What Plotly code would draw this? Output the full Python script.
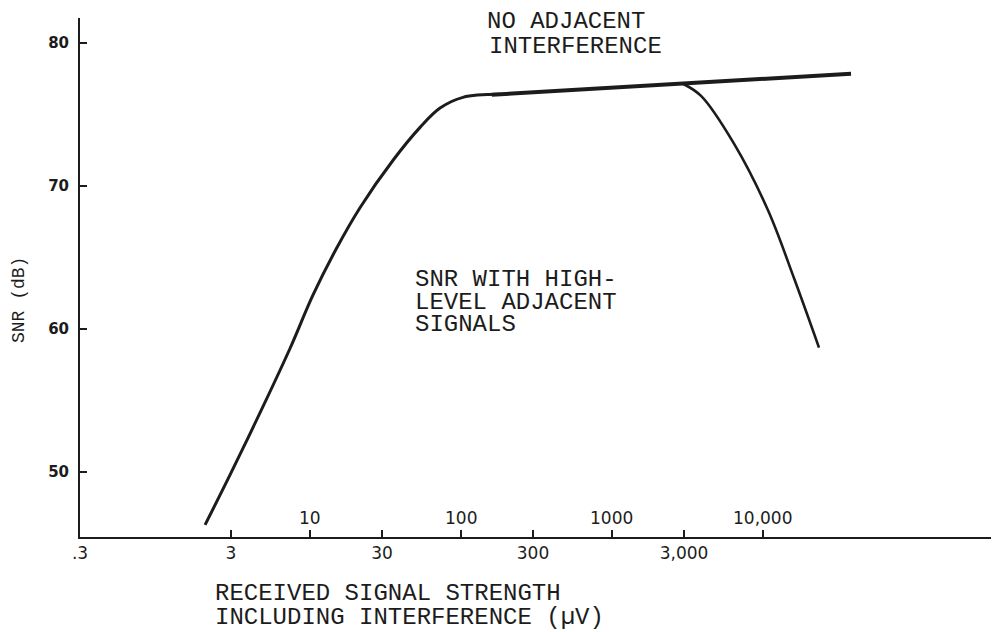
import numpy as np
import plotly.graph_objects as go

# Rising part of the SNR curve (no adjacent interference)
rise_x = [2.02, 3, 4.9, 7.4, 10.5, 15.1, 21.5, 35.5, 53.6, 72.7, 103, 181]
rise_y = [46.3, 49.93, 54.6, 58.67, 62.4, 65.7, 68.5, 71.8, 74.1, 75.45, 76.2, 76.41]

# Plateau (no adjacent interference)
plateau_x = [160, 1000, 38300]
plateau_y = [76.38, 76.87, 77.85]

# SNR with high-level adjacent signals (falling branch)
drop_x = [2950, 3890, 6430, 10800, 16000, 23500]
drop_y = [77.15, 76.3, 72.96, 68.3, 63.6, 58.7]

# Axis ticks
x_tick_vals = [0.3, 3, 10, 30, 100, 300, 1000, 3000, 10000]
x_low_labels = {0.3: ".3", 3: "3", 30: "30", 300: "300", 3000: "3,000"}
x_high_labels = {10: "10", 100: "100", 1000: "1000", 10000: "10,000"}
y_tick_vals = [50, 60, 70, 80]

INK = "#1c1c1c"
MONO = "Liberation Mono"

# page has an 8px body margin; plot area wanted at screen x 80..995, y 18..537
OFF = 8
PL, PR, PT, PB = 80, 995, 18, 537

fig = go.Figure()
fig.add_trace(go.Scatter(x=rise_x, y=rise_y, mode="lines",
                         line=dict(color=INK, width=3, shape="spline", smoothing=1.0),
                         hoverinfo="skip"))
fig.add_trace(go.Scatter(x=plateau_x, y=plateau_y, mode="lines",
                         line=dict(color=INK, width=4),
                         hoverinfo="skip"))
fig.add_trace(go.Scatter(x=drop_x, y=drop_y, mode="lines",
                         line=dict(color=INK, width=2.6, shape="spline", smoothing=1.0),
                         hoverinfo="skip"))

x0 = np.log10(0.3)
x1 = x0 + (PR - PL) / 151

fig.update_layout(
    width=999, height=632, autosize=False,
    margin=dict(l=PL - OFF, r=999 - (PR - OFF), t=PT - OFF, b=632 - (PB - OFF)),
    paper_bgcolor="white", plot_bgcolor="white",
    showlegend=False,
    xaxis=dict(type="log", range=[x0, x1],
               tickvals=x_tick_vals,
               ticktext=[x_low_labels.get(v, "") for v in x_tick_vals],
               ticks="inside", ticklen=7, tickwidth=1.5, tickcolor=INK,
               showline=True, linecolor=INK, linewidth=2,
               showgrid=False, zeroline=False,
               tickfont=dict(family="DejaVu Sans", size=17, color=INK)),
    yaxis=dict(range=[45.45, 81.75],
               tickvals=y_tick_vals,
               ticks="inside", ticklen=7, tickwidth=2, tickcolor=INK,
               showline=True, linecolor=INK, linewidth=2,
               showgrid=False, zeroline=False,
               ticklabelstandoff=6,
               tickfont=dict(family="DejaVu Sans", size=15, color=INK, weight="bold")),
)


def px_to_paper(sx, sy):
    return (sx - PL) / (PR - PL), (PB - sy) / (PB - PT)


# Upper-row x labels (written above the axis line)
for v, t in x_high_labels.items():
    fig.add_annotation(x=np.log10(v), y=0, xref="x", yref="paper",
                       text=t, showarrow=False, yanchor="bottom", yshift=7,
                       font=dict(family="DejaVu Sans", size=17, color=INK))

# Typed annotations
texts = [
    ("NO ADJACENT", 485, 22),
    ("INTERFERENCE", 487, 47),
    ("SNR WITH HIGH-", 413, 279),
    ("LEVEL ADJACENT", 413, 302),
    ("SIGNALS", 413, 324),
    ("RECEIVED SIGNAL STRENGTH", 213, 594),
    ("INCLUDING INTERFERENCE (\u00b5V)", 213, 617),
]
for t, sx, sy in texts:
    ax, ay = px_to_paper(sx, sy)
    fig.add_annotation(x=ax, y=ay, xref="paper", yref="paper",
                       text=t, showarrow=False, xanchor="left", yanchor="middle",
                       font=dict(family=MONO, size=24, color=INK))

ax, ay = px_to_paper(19, 300)
fig.add_annotation(x=ax, y=ay, xref="paper", yref="paper",
                   text="SNR (dB)", showarrow=False, textangle=-90,
                   xanchor="center", yanchor="middle",
                   font=dict(family=MONO, size=18, color=INK))

fig.write_html("out.html")
